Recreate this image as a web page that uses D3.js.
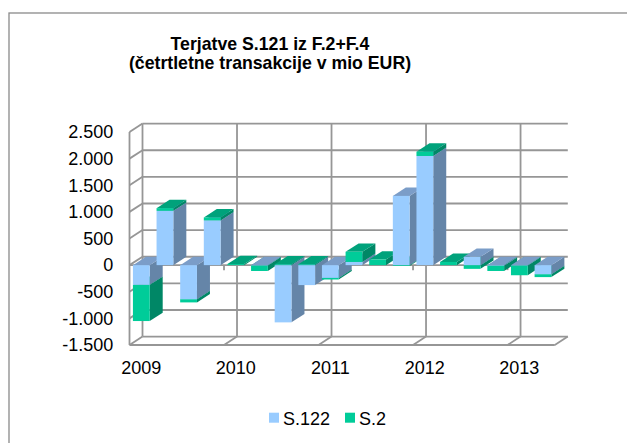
<!DOCTYPE html>
<html>
<head>
<meta charset="utf-8">
<script src="https://cdn.jsdelivr.net/npm/d3@7"></script>
<style>
  html, body { margin: 0; padding: 0; background: #fff; }
  svg { display: block; }
  text { font-family: "Liberation Sans", Arial, sans-serif; fill: #000; }
</style>
</head>
<body>
<svg id="chart" width="627" height="443"></svg>
<script>
// ---- data ----
const categories = ["2009Q1","2009Q2","2009Q3","2009Q4","2010Q1","2010Q2","2010Q3","2010Q4",
                    "2011Q1","2011Q2","2011Q3","2011Q4","2012Q1","2012Q2","2012Q3","2012Q4",
                    "2013Q1","2013Q2"];
const seriesNames = ["S.122", "S.2"];
const s122 = [-370, 1020, -640, 840, 0, -5, -1075, -375, -240, 60, 0, 1300, 2050, 0, 155, -10, -5, -170];
const s2   = [-680, 50, -60, 55, 20, -105, 15, 15, -30, 190, 105, -15, 80, 60, -70, -100, -185, -55];
const yTicks = [-1500, -1000, -500, 0, 500, 1000, 1500, 2000, 2500];
const yearCats = ["2009Q1","2010Q1","2011Q1","2012Q1","2013Q1"];
const yearLabels = ["2009","2010","2011","2012","2013"];
const titleLines = ["Terjatve S.121 iz F.2+F.4", "(četrtletne transakcije v mio EUR)"];

// ---- styles ----
const colors = {
  "S.122": { front: "#99CCFF", top: "#7B9DC8", side: "#6585A8" },
  "S.2":   { front: "#00CC99", top: "#00A27B", side: "#008766" }
};
const gridColor = "#969696";
const DX = 13, DY = -8.4;  // depth offset of the back plane

const svg = d3.select("#chart");

// chart area border (extends beyond right/bottom edge)
svg.append("rect").attr("x", 9).attr("y", 13).attr("width", 700).attr("height", 500)
  .attr("fill", "none").attr("stroke", "#8a8a8a").attr("stroke-width", 1.3);

// scales
const x0 = 129.5, x1 = 554.8;
const slot = d3.scaleBand().domain(categories).range([x0, x1]).padding(0);
const xBar = d3.scaleBand().domain(categories).range([x0, x1]).paddingInner(0.29).paddingOuter(0.145);
const y = d3.scaleLinear().domain([-1500, 2500]).range([345, 132]);
const yMin = y.domain()[0], yMax = y.domain()[1];

const grid = svg.append("g").attr("stroke", gridColor).attr("stroke-width", 1.8).attr("fill", "none");

// back wall horizontal gridlines
grid.selectAll(".hg").data(yTicks).join("line")
  .attr("x1", x0 + DX).attr("x2", x1 + DX)
  .attr("y1", d => y(d) + DY).attr("y2", d => y(d) + DY);

// back wall vertical gridlines (every 4 categories)
const boundaryIdx = [0, 4, 8, 12, 16];
const bx = i => x0 + i * slot.step();
grid.selectAll(".vg").data(boundaryIdx).join("line")
  .attr("x1", d => bx(d) + DX).attr("x2", d => bx(d) + DX)
  .attr("y1", y(yMax) + DY).attr("y2", y(yMin) + DY);

// left side wall: front edge + connectors
grid.append("line").attr("x1", x0).attr("x2", x0).attr("y1", y(yMax)).attr("y2", y(yMin));
grid.selectAll(".sc").data(yTicks).join("line")
  .attr("x1", x0).attr("x2", x0 + DX)
  .attr("y1", d => y(d)).attr("y2", d => y(d) + DY);

// floor: front edge, diagonals, right edge
grid.append("line").attr("x1", x0).attr("x2", x1).attr("y1", y(yMin)).attr("y2", y(yMin));
grid.selectAll(".fd").data(boundaryIdx.slice(1).concat([categories.length])).join("line")
  .attr("x1", d => bx(d)).attr("x2", d => bx(d) + DX)
  .attr("y1", y(yMin)).attr("y2", y(yMin) + DY);

// category axis at zero (front) + tick marks
grid.append("line").attr("x1", x0).attr("x2", x1).attr("y1", y(0)).attr("y2", y(0));
grid.selectAll(".tk").data(boundaryIdx.slice(1)).join("line")
  .attr("x1", d => bx(d)).attr("x2", d => bx(d))
  .attr("y1", y(0)).attr("y2", y(0) + 5);

// ---- stacked 3D bars ----
const table = categories.map((c, i) => ({ cat: c, "S.122": s122[i], "S.2": s2[i] }));
const stacked = d3.stack().keys(seriesNames).offset(d3.stackOffsetDiverging)(table);

const bars = svg.append("g");
categories.forEach((c, i) => {
  let segs = stacked.map(s => ({ key: s.key, lo: s[i][0], hi: s[i][1] }))
    .filter(s => Math.abs(s.hi - s.lo) > 1e-9);
  // draw order: negatives farthest-from-zero first, then positives nearest-to-zero first
  segs.sort((a, b) => {
    const an = a.hi <= 0 ? 0 : 1, bn = b.hi <= 0 ? 0 : 1;
    if (an !== bn) return an - bn;
    return an === 0 ? a.hi - b.hi : a.lo - b.lo;
  });
  const xl = xBar(c), xr = xBar(c) + xBar.bandwidth();
  segs.forEach(s => {
    const yt = y(Math.max(s.lo, s.hi)), yb = y(Math.min(s.lo, s.hi));
    const col = colors[s.key];
    const g = bars.append("g");
    g.append("polygon").attr("fill", col.side)
      .attr("points", [[xr, yt], [xr + DX, yt + DY], [xr + DX, yb + DY], [xr, yb]].join(" "));
    g.append("polygon").attr("fill", col.top)
      .attr("points", [[xl, yt], [xr, yt], [xr + DX, yt + DY], [xl + DX, yt + DY]].join(" "));
    g.append("rect").attr("fill", col.front)
      .attr("x", xl).attr("y", yt).attr("width", xr - xl).attr("height", yb - yt);
  });
});

// ---- axes labels ----
const fmt = d3.formatLocale({ decimal: ",", thousands: ".", grouping: [3], currency: ["", " €"], minus: "-" }).format(",.0f");
const yAxis = svg.append("g").attr("transform", `translate(${x0},0)`)
  .call(d3.axisLeft(y).tickValues(yTicks).tickFormat(fmt).tickSize(0).tickPadding(16.3));
yAxis.select(".domain").remove();
yAxis.selectAll("text").attr("font-size", "18px").attr("font-family", "'Liberation Sans', Arial, sans-serif").attr("fill", "#000");

const xAxis = svg.append("g").attr("transform", `translate(0,${y(yMin)})`)
  .call(d3.axisBottom(slot).tickValues(yearCats).tickFormat((d, i) => yearLabels[i]).tickSize(0).tickPadding(16.3));
xAxis.select(".domain").remove();
xAxis.selectAll("text").attr("font-size", "18px").attr("font-family", "'Liberation Sans', Arial, sans-serif").attr("fill", "#000");

// ---- title ----
svg.append("g").selectAll("text").data(titleLines).join("text")
  .attr("x", 270).attr("y", (d, i) => 50 + i * 18.5)
  .attr("text-anchor", "middle").attr("font-weight", "bold").attr("font-size", "17.7px")
  .text(d => d);

// ---- legend ----
const legendX = [269, 345];
const lg = svg.append("g");
seriesNames.forEach((n, i) => {
  lg.append("rect").attr("x", legendX[i]).attr("y", 412.7).attr("width", 10).attr("height", 10)
    .attr("fill", colors[n].front);
  lg.append("text").attr("x", legendX[i] + 14).attr("y", 425).attr("font-size", "18px").text(n);
});
</script>
</body>
</html>
